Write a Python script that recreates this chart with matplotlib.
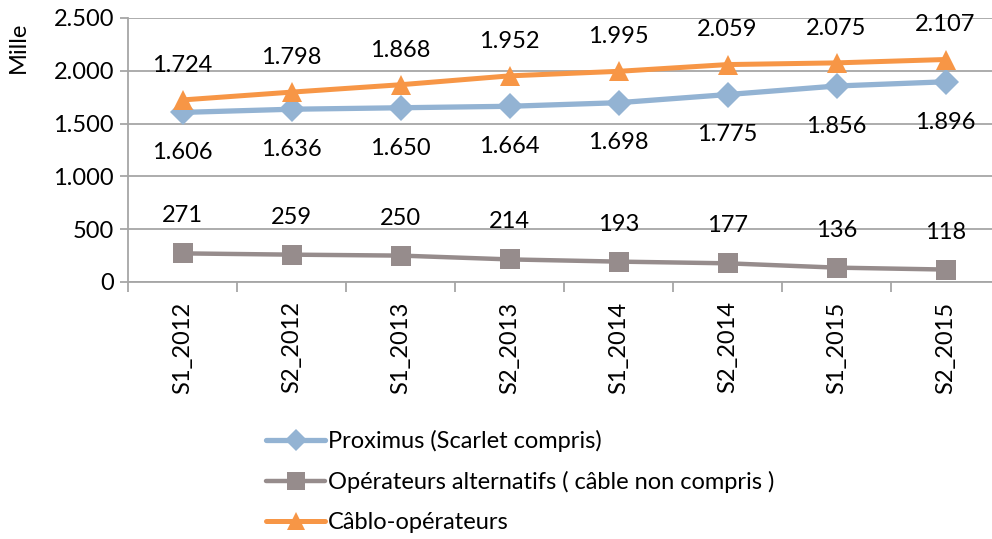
import matplotlib
matplotlib.use("Agg")
import matplotlib.pyplot as plt
from matplotlib.ticker import FuncFormatter

plt.rcParams['font.family'] = ['Lato', 'DejaVu Sans']

periods = ["S1_2012", "S2_2012", "S1_2013", "S2_2013",
           "S1_2014", "S2_2014", "S1_2015", "S2_2015"]
proximus = [1606, 1636, 1650, 1664, 1698, 1775, 1856, 1896]
alternatifs = [271, 259, 250, 214, 193, 177, 136, 118]
cablo = [1724, 1798, 1868, 1952, 1995, 2059, 2075, 2107]

names = ["Proximus (Scarlet compris)",
         "Opérateurs alternatifs ( câble non compris )",
         "Câblo-opérateurs"]

FS = 17


def fmt(v, pos=None):
    return f"{int(v):,}".replace(",", ".")


fig = plt.figure(figsize=(9.92, 5.39), dpi=100)
ax = fig.add_axes([128 / 992, 1 - 282 / 539, 872 / 992, 264 / 539])

x = list(range(len(periods)))
series = [
    (proximus, "#93B3D3", "D", 13, 3.8, -29),
    (alternatifs, "#968C8C", "s", 14, 3.2, 27),
    (cablo, "#F79646", "^", 14, 3.6, 25),
]
handles = []
for (vals, col, mk, ms, lw, off), name in zip(series, names):
    h, = ax.plot(x, vals, color=col, marker=mk, markersize=ms, linewidth=lw,
                 markeredgewidth=0, label=name, solid_capstyle='round')
    handles.append(h)
    for xi, v in zip(x, vals):
        ax.annotate(fmt(v), (xi, v), xytext=(0, off), textcoords="offset points",
                    ha="center", va="center", fontsize=FS)

ax.set_xlim(-0.5, len(periods) - 0.5)
ax.set_ylim(0, 2500)
ax.set_yticks(range(0, 2501, 500))
ax.yaxis.set_major_formatter(FuncFormatter(fmt))
ax.grid(axis="y", color="#A6A6A6", linewidth=1.3)
ax.set_axisbelow(True)

ax.set_xticks(x)
ax.set_xticklabels(periods, rotation=90, fontsize=FS)
ax.set_xticks([i + 0.5 for i in range(-1, len(periods))], minor=True)
ax.tick_params(axis="x", which="major", length=0, pad=14)
ax.tick_params(axis="x", which="minor", length=7, color="#A6A6A6", width=1.3)
ax.tick_params(axis="y", length=6, color="#A6A6A6", width=1.3, labelsize=FS, pad=4)

for s in ["top", "right"]:
    ax.spines[s].set_visible(False)
ax.spines["left"].set_color("#A6A6A6")
ax.spines["left"].set_linewidth(1.3)
ax.spines["bottom"].set_color("#A6A6A6")
ax.spines["bottom"].set_linewidth(1.3)

fig.text(18 / 992, 1 - 47 / 539, "Mille", rotation=90, ha="center", va="center",
         fontsize=FS)

fig.legend(handles=handles, loc="upper left", bbox_to_anchor=(245 / 992, 1 - 409 / 539),
           frameon=False, fontsize=FS, handlelength=2.5, handletextpad=0.1,
           labelspacing=0.8, markerscale=0.9)

fig.savefig("out.png", dpi=100)
